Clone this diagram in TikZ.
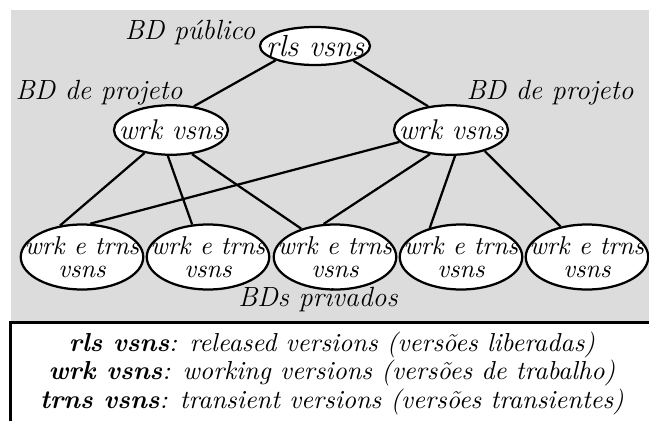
\documentclass[tikz,border=0pt]{standalone}
\usetikzlibrary{shapes.geometric}
\definecolor{panelgray}{RGB}{220,220,220}
\begin{document}
\begin{tikzpicture}[x=0.4pt,y=-0.4pt,
  txt/.style={font=\fontsize{11.1}{10.2}\selectfont\itshape, inner sep=0pt},
  legendtxt/.style={font=\fontsize{10.4}{10.2}\selectfont\itshape, inner sep=0pt, align=center},
  vbox/.style={ellipse, draw, line width=0.9pt, fill=white, inner sep=0pt},
  topbox/.style={vbox, minimum width=44pt, minimum height=15.2pt},
  midbox/.style={vbox, minimum width=45.6pt, minimum height=19.8pt},
  lowbox/.style={vbox, minimum width=49pt, minimum height=26pt},
  toptext/.style={font=\fontsize{12.2}{12}\selectfont\itshape, inner sep=0pt},
  midtext/.style={font=\fontsize{11.4}{12}\selectfont\itshape, inner sep=0pt},
  lowtext/.style={font=\fontsize{10.3}{9.4}\selectfont\itshape, inner sep=0pt, align=center},
  link/.style={line width=0.9pt}]
\useasboundingbox (0,0) rectangle (649,421);
\clip (0,0) rectangle (649,421);
% grey panel and legend frame
\fill[panelgray] (11,10) rectangle (670,322);
\draw[line width=1.2pt, fill=white] (11,322) rectangle (680,450);

% version databases
\node[topbox] (rls) at (315,46) {};
\node[midbox] (wl) at (171,130) {};
\node[midbox] (wr) at (451,130) {};
\node[lowbox] (b1) at (82,257) {};
\node[lowbox] (b2) at (208,257) {};
\node[lowbox] (b3) at (335,257) {};
\node[lowbox] (b4) at (461,257) {};
\node[lowbox] (b5) at (587,257) {};

\node[toptext] (rlsT) at (rls) {rls vsns};
\node[midtext] (wlT) at (wl) {wrk vsns};
\node[midtext] (wrT) at (wr) {wrk vsns};
\node[lowtext] (b1T) at (b1) {wrk e trns\\vsns};
\node[lowtext] (b2T) at (b2) {wrk e trns\\vsns};
\node[lowtext] (b3T) at (b3) {wrk e trns\\vsns};
\node[lowtext] (b4T) at (b4) {wrk e trns\\vsns};
\node[lowtext] (b5T) at (b5) {wrk e trns\\vsns};

% labels
\node[txt] (pub) at (190,33) {BD público};
\node[txt] (projl) at (99,93) {BD de projeto};
\node[txt] (projr) at (550,93) {BD de projeto};
\node[txt] (priv) at (318,300) {BDs privados};

% connectors
\draw[link] (rls.200) -- (wl.46);
\draw[link] (rls.339) -- (wr.134);
\draw[link] (wl.221) -- (b1.125);
\draw[link] (wl.263) -- (b2.116);
\draw[link] (wl.311) -- (b3.140);
\draw[link] (wr.193) -- (b1.76);
\draw[link] (wr.229) -- (b3.109);
\draw[link] (wr.279) -- (b4.137);
\draw[link] (wr.328) -- (b5.131);

% legend
\node[legendtxt] (legend) at (332,373)
  {\textbf{rls vsns}: released versions (versões liberadas)\\
   \textbf{wrk vsns}: working versions (versões de trabalho)\\
   \textbf{trns vsns}: transient versions (versões transientes)};
\end{tikzpicture}
\end{document}
